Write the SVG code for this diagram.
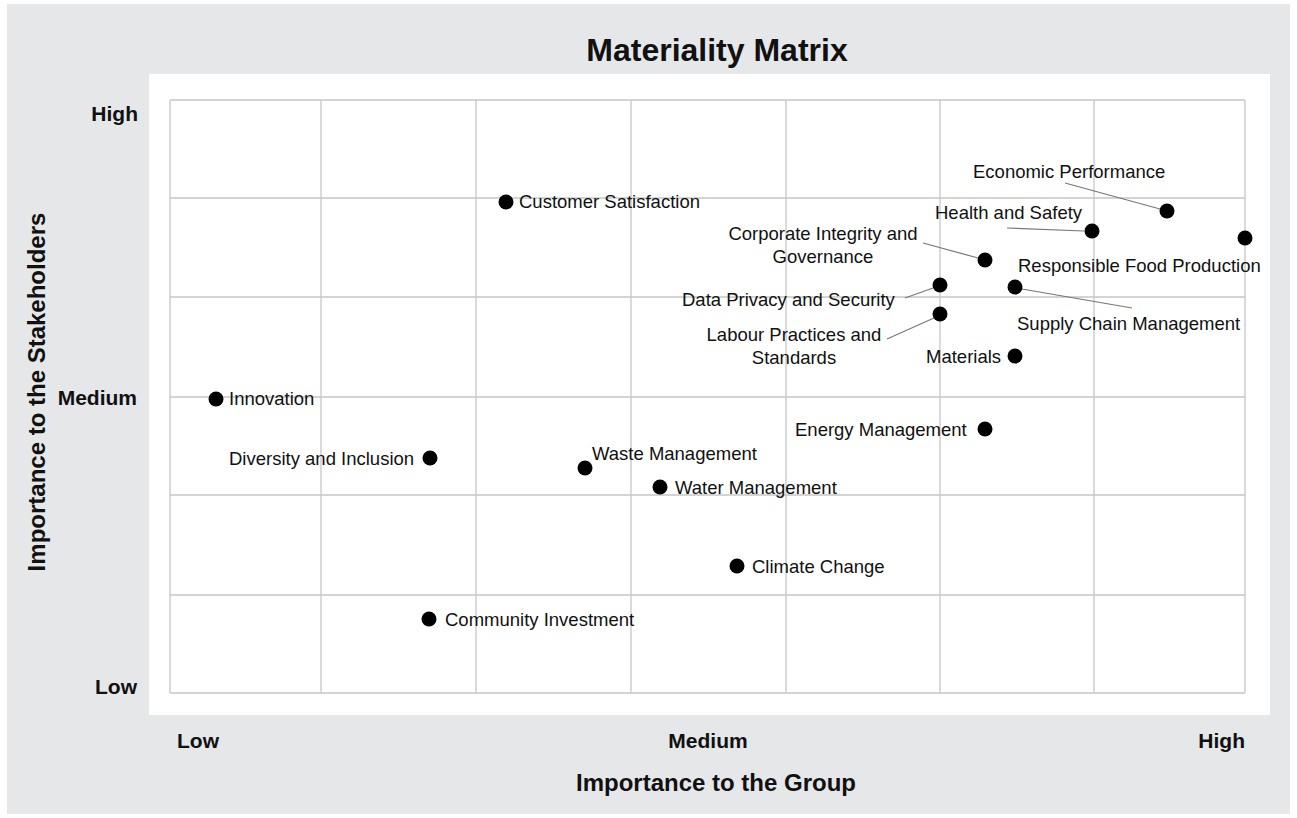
<svg xmlns="http://www.w3.org/2000/svg" width="1297" height="818" viewBox="0 0 1297 818">
<style>
.lbl{font-family:"Liberation Sans",Arial,sans-serif;font-size:18.5px;fill:#111}
.ax{font-family:"Liberation Sans",Arial,sans-serif;font-size:21px;font-weight:bold;fill:#111}
.ttl{font-family:"Liberation Sans",Arial,sans-serif;font-weight:bold;fill:#111}
.grid line{stroke:#c6c6c6;stroke-width:1.3}
.dot{fill:#000}
.lead{stroke:#777;stroke-width:1.2;fill:none}
</style>
<rect x="7" y="4" width="1283" height="810" fill="#e6e7e9"/>
<rect x="149" y="74" width="1121" height="641" fill="#fff"/>
<g class="grid">
<line x1="170" y1="100" x2="1245" y2="100"/>
<line x1="170" y1="198" x2="1245" y2="198"/>
<line x1="170" y1="297" x2="1245" y2="297"/>
<line x1="170" y1="397" x2="1245" y2="397"/>
<line x1="170" y1="495" x2="1245" y2="495"/>
<line x1="170" y1="595" x2="1245" y2="595"/>
<line x1="170" y1="693" x2="1245" y2="693"/>
<line x1="170" y1="100" x2="170" y2="693"/>
<line x1="321" y1="100" x2="321" y2="693"/>
<line x1="476" y1="100" x2="476" y2="693"/>
<line x1="631" y1="100" x2="631" y2="693"/>
<line x1="786" y1="100" x2="786" y2="693"/>
<line x1="940" y1="100" x2="940" y2="693"/>
<line x1="1094" y1="100" x2="1094" y2="693"/>
<line x1="1245" y1="100" x2="1245" y2="693"/>
</g>
<text class="ttl" x="717" y="61" font-size="32" text-anchor="middle">Materiality Matrix</text>
<g id="y-axis">
<text class="ax" x="138" y="121" text-anchor="end">High</text>
<text class="ax" x="137" y="405" text-anchor="end">Medium</text>
<text class="ax" x="137" y="694" text-anchor="end">Low</text>
<text class="ttl" font-size="24" transform="translate(45,392) rotate(-90)" text-anchor="middle">Importance to the Stakeholders</text>
</g>
<g id="x-axis">
<text class="ax" x="177" y="748">Low</text>
<text class="ax" x="708" y="748" text-anchor="middle">Medium</text>
<text class="ax" x="1245" y="748" text-anchor="end">High</text>
<text class="ttl" font-size="24" x="716" y="791" text-anchor="middle">Importance to the Group</text>
</g>
<g id="connectors">
<line class="lead" x1="1065" y1="183" x2="1160" y2="209"/>
<line class="lead" x1="1007" y1="228" x2="1084" y2="231"/>
<line class="lead" x1="923" y1="243" x2="978" y2="258"/>
<line class="lead" x1="905" y1="298" x2="933" y2="288"/>
<line class="lead" x1="887" y1="339" x2="934" y2="318"/>
<line class="lead" x1="1022" y1="289" x2="1132" y2="308"/>
</g>
<g id="economic-performance"><circle class="dot" cx="1167" cy="211" r="7.5"/><text class="lbl" x="973" y="178">Economic Performance</text></g>
<g id="health-and-safety"><circle class="dot" cx="1092" cy="231" r="7.5"/><text class="lbl" x="935" y="219">Health and Safety</text></g>
<g id="responsible-food-production"><circle class="dot" cx="1245" cy="238" r="7.5"/><text class="lbl" x="1018" y="272">Responsible Food Production</text></g>
<g id="corporate-integrity"><circle class="dot" cx="985" cy="260" r="7.5"/><text class="lbl" x="823" y="240" text-anchor="middle">Corporate Integrity and<tspan x="823" y="263">Governance</tspan></text></g>
<g id="data-privacy"><circle class="dot" cx="940" cy="285" r="7.5"/><text class="lbl" x="682" y="306">Data Privacy and Security</text></g>
<g id="labour-practices"><circle class="dot" cx="940" cy="314" r="7.5"/><text class="lbl" x="794" y="341" text-anchor="middle">Labour Practices and<tspan x="794" y="364">Standards</tspan></text></g>
<g id="supply-chain"><circle class="dot" cx="1015" cy="287" r="7.5"/><text class="lbl" x="1017" y="330">Supply Chain Management</text></g>
<g id="materials"><circle class="dot" cx="1015" cy="356" r="7.5"/><text class="lbl" x="926" y="363">Materials</text></g>
<g id="energy-management"><circle class="dot" cx="985" cy="429" r="7.5"/><text class="lbl" x="795" y="436">Energy Management</text></g>
<g id="customer-satisfaction"><circle class="dot" cx="506" cy="202" r="7.5"/><text class="lbl" x="519" y="208">Customer Satisfaction</text></g>
<g id="innovation"><circle class="dot" cx="216" cy="399" r="7.5"/><text class="lbl" x="229" y="405">Innovation</text></g>
<g id="diversity-inclusion"><circle class="dot" cx="430" cy="458" r="7.5"/><text class="lbl" x="229" y="465">Diversity and Inclusion</text></g>
<g id="waste-management"><circle class="dot" cx="585" cy="468" r="7.5"/><text class="lbl" x="592" y="460">Waste Management</text></g>
<g id="water-management"><circle class="dot" cx="660" cy="487" r="7.5"/><text class="lbl" x="675" y="494">Water Management</text></g>
<g id="climate-change"><circle class="dot" cx="737" cy="566" r="7.5"/><text class="lbl" x="752" y="573">Climate Change</text></g>
<g id="community-investment"><circle class="dot" cx="429" cy="619" r="7.5"/><text class="lbl" x="445" y="626">Community Investment</text></g>
</svg>
